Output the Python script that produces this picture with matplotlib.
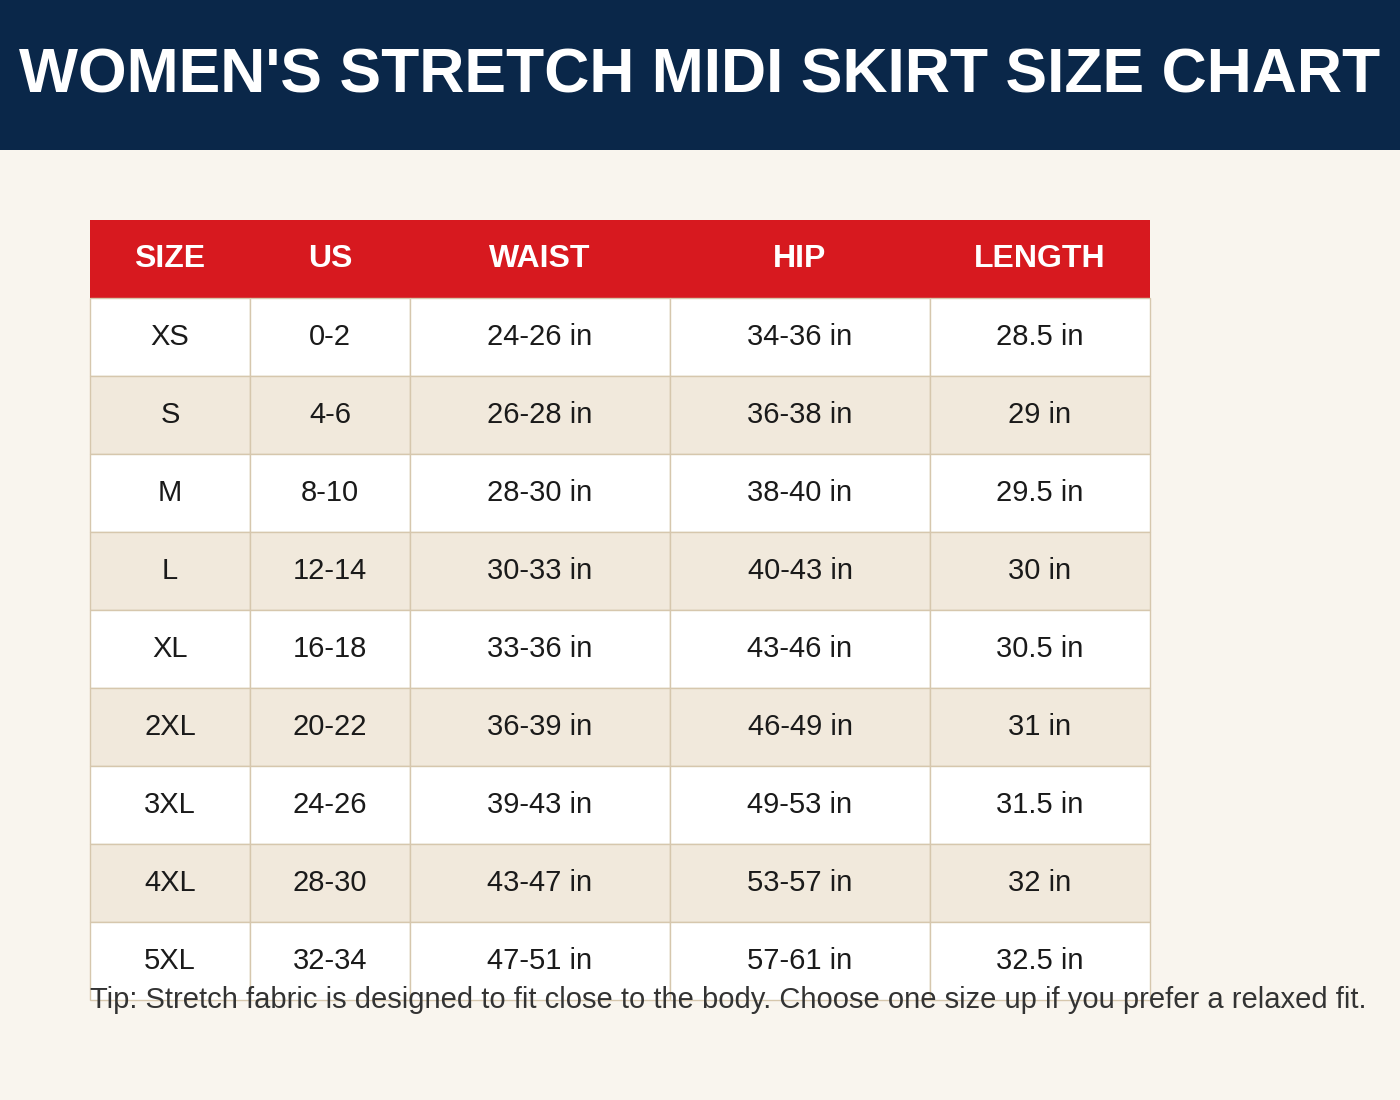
import matplotlib
matplotlib.use("Agg")
import matplotlib.pyplot as plt
from matplotlib.patches import Rectangle

# --- Data ---
title = "WOMEN'S STRETCH MIDI SKIRT SIZE CHART"
headers = ["SIZE", "US", "WAIST", "HIP", "LENGTH"]
sizes = ["XS", "S", "M", "L", "XL", "2XL", "3XL", "4XL", "5XL"]
us = ["0-2", "4-6", "8-10", "12-14", "16-18", "20-22", "24-26", "28-30", "32-34"]
waist = ["24-26 in", "26-28 in", "28-30 in", "30-33 in", "33-36 in",
         "36-39 in", "39-43 in", "43-47 in", "47-51 in"]
hip = ["34-36 in", "36-38 in", "38-40 in", "40-43 in", "43-46 in",
       "46-49 in", "49-53 in", "53-57 in", "57-61 in"]
length = ["28.5 in", "29 in", "29.5 in", "30 in", "30.5 in",
          "31 in", "31.5 in", "32 in", "32.5 in"]
tip = ("Tip: Stretch fabric is designed to fit close to the body. "
       "Choose one size up if you prefer a relaxed fit.")

# --- Layout (pixel coords) ---
W, H = 1400, 1100
col_edges = [90, 250, 410, 670, 930, 1150]
head_top, row_h = 220, 78
NAVY, RED, BG = "#0a2749", "#d7191f", "#f9f5ee"
ALT, EDGE = "#f1e9dc", "#d6c7ad"
FONT = ["Liberation Sans", "DejaVu Sans"]

fig = plt.figure(figsize=(14, 11), dpi=100)
fig.patch.set_facecolor(BG)
ax = fig.add_axes([0, 0, 1, 1])
ax.set_xlim(0, W)
ax.set_ylim(H, 0)
ax.axis("off")

# header band
ax.add_patch(Rectangle((0, 0), W, 150, color=NAVY, lw=0))
ax.text(700, 76, title, ha="center", va="center", color="white",
        fontsize=45, fontweight="bold", family=FONT)

# table header
ax.add_patch(Rectangle((col_edges[0], head_top), col_edges[-1] - col_edges[0],
                       row_h, color=RED, lw=0))
for i, h in enumerate(headers):
    xc = (col_edges[i] + col_edges[i + 1]) / 2
    ax.text(xc, head_top + row_h / 2, h, ha="center", va="center",
            color="white", fontsize=23, fontweight="bold", family=FONT)

# body rows
columns = [sizes, us, waist, hip, length]
for r in range(len(sizes)):
    y0 = head_top + row_h * (r + 1)
    fc = ALT if r % 2 == 1 else "white"
    for c in range(len(columns)):
        x0, x1 = col_edges[c], col_edges[c + 1]
        ax.add_patch(Rectangle((x0, y0), x1 - x0, row_h, facecolor=fc,
                               edgecolor=EDGE, lw=1))
        ax.text((x0 + x1) / 2, y0 + row_h / 2, columns[c][r], ha="center",
                va="center", color="#1a1a1a", fontsize=21, family=FONT)

ax.text(90, 1000, tip, ha="left", va="center", color="#333333",
        fontsize=21, family=FONT, clip_on=False)

fig.savefig("out.png", dpi=100, facecolor=BG)
